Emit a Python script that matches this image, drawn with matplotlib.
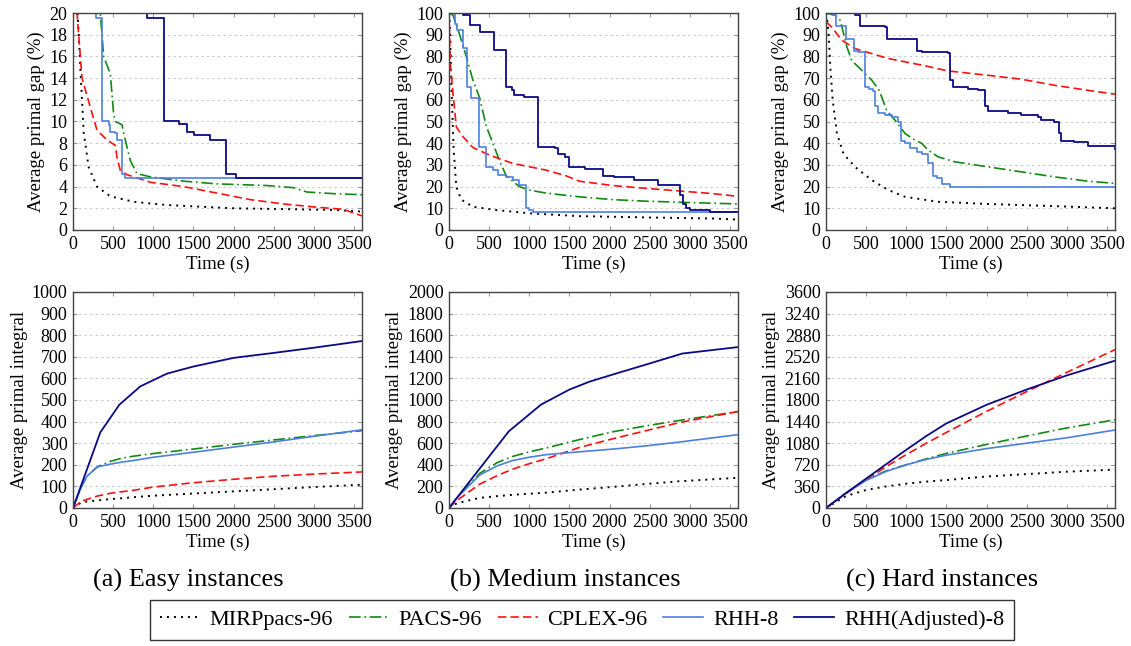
import numpy as np
import matplotlib
matplotlib.use("Agg")
import matplotlib.pyplot as plt
from matplotlib.lines import Line2D

plt.rcParams['font.family'] = ['Liberation Serif', 'DejaVu Serif']
plt.rcParams['font.size'] = 12.5

# ---- data: average primal gap (%) over time (s) ----
# (a) easy
gap_easy_mirp_t = [30, 58, 91, 133, 195, 299, 465, 755, 1170, 2000, 3245, 3600]
gap_easy_mirp_v = [40, 20, 15, 9, 5.8, 4.0, 3.1, 2.6, 2.3, 2.0, 1.85, 1.7]
gap_easy_pacs_t = [320, 340, 382, 465, 506, 527, 610, 651, 714, 797, 963, 1378, 1793, 2415, 2747, 2913, 3245, 3600]
gap_easy_pacs_v = [24, 20, 16, 14.4, 10.7, 10, 9.7, 8.3, 6.4, 5.2, 4.9, 4.5, 4.25, 4.1, 3.9, 3.5, 3.35, 3.25]
gap_easy_cplex_t = [40, 50, 112, 216, 299, 423, 527, 548, 589, 672, 963, 1378, 1793, 2207, 2622, 3037, 3369, 3600]
gap_easy_cplex_v = [24, 20, 14, 11.3, 9.2, 8.3, 7.8, 6.7, 5.5, 5.1, 4.4, 4.0, 3.4, 2.8, 2.4, 2.1, 1.9, 1.3]
gap_easy_rhh_t = [0, 290, 361, 444, 465, 527, 548, 610, 651, 3600]
gap_easy_rhh_v = [100, 19.5, 10, 9.7, 9.0, 8.9, 8.3, 5.2, 4.75, 4.75]
gap_easy_adj_t = [0, 921, 1129, 1315, 1419, 1502, 1710, 1909, 2033, 3600]
gap_easy_adj_v = [100, 19.5, 10, 9.8, 9.0, 8.8, 8.3, 5.2, 4.75, 4.75]

# (b) medium
gap_med_mirp_t = [0, 10, 17, 29, 58, 91, 153, 298, 588, 1001, 1622, 2449, 3277, 3600]
gap_med_mirp_v = [100, 95, 85, 67, 37, 20, 14, 10.7, 9.2, 7.7, 6.4, 5.8, 5.3, 4.8]
gap_med_pacs_t = [0, 50, 132, 215, 298, 381, 463, 546, 629, 712, 877, 1001, 1208, 1622, 2036, 2449, 2863, 3600]
gap_med_pacs_v = [100, 99, 90, 80, 69, 61, 48, 40, 32, 25, 20, 18.4, 17, 15.3, 14, 13.3, 12.8, 12]
gap_med_cplex_t = [0, 10, 21, 50, 91, 174, 298, 505, 794, 1208, 1456, 1622, 2036, 2449, 2863, 3277, 3600]
gap_med_cplex_v = [100, 85, 75, 63, 47.5, 43, 38, 34.5, 30.7, 27.6, 25, 22.5, 20.5, 19.2, 18, 16.8, 15.5]
gap_med_rhh_t = [0, 70, 100, 170, 228, 277, 370, 455, 546, 608, 712, 795, 877, 965, 1000, 1045, 3600]
gap_med_rhh_v = [100, 95, 92, 84, 66, 60.6, 38.3, 29, 27.6, 25.3, 24.5, 23, 20.7, 10, 9.2, 8.4, 8.4]
gap_med_adj_t = [0, 174, 257, 380, 566, 712, 790, 810, 940, 1108, 1315, 1360, 1440, 1490, 1700,
                 1920, 2050, 2300, 2600, 2880, 2920, 2950, 3000, 3250, 3600]
gap_med_adj_v = [100, 99, 94.3, 91.3, 83, 66, 64.4, 62, 61.3, 38.3, 37.6, 35, 33.7, 29, 28,
                 25, 24.2, 23, 20.7, 16, 12, 10, 9.2, 8.4, 8.4]

# (c) hard
gap_hard_mirp_t = [0, 12, 33, 54, 83, 136, 219, 364, 570, 777, 984, 1397, 2017, 2844, 3600]
gap_hard_mirp_v = [100, 98, 90, 75, 60, 44.5, 35, 29, 23, 18.4, 15.3, 13, 12, 11, 10]
gap_hard_pacs_t = [0, 116, 178, 219, 260, 322, 446, 570, 653, 694, 756, 860, 984, 1108, 1190,
                   1273, 1397, 1604, 2017, 2431, 2844, 3258, 3600]
gap_hard_pacs_v = [100, 99, 96.6, 90.5, 84.4, 78, 73.6, 69, 65, 61.3, 55, 50.6, 44.5, 41.4, 40,
                   36.8, 33.7, 31.4, 29.1, 26.8, 24.5, 22.5, 21.5]
gap_hard_cplex_t = [0, 70, 198, 364, 570, 777, 984, 1190, 1521, 2017, 2431, 2844, 3258, 3600]
gap_hard_cplex_v = [96, 93.5, 87.4, 83.6, 81.3, 79, 77.5, 76, 73.3, 71.3, 69.5, 66.7, 64.4, 62.6]
gap_hard_rhh_t = [0, 74, 130, 250, 345, 400, 488, 540, 590, 610, 650, 730, 820, 900, 935, 990,
                  1050, 1130, 1200, 1270, 1330, 1380, 1440, 1550, 3600]
gap_hard_rhh_v = [100, 99, 94, 88, 82.5, 82, 66, 65, 64, 57, 54, 53, 52, 50, 41, 40,
                  38, 36, 35, 31, 25, 24, 21, 20, 19.6]
gap_hard_adj_t = [0, 364, 426, 736, 756, 1130, 1190, 1521, 1542, 1583, 1769, 1893, 1976, 2017,
                  2265, 2431, 2637, 2679, 2844, 2906, 2927, 3092, 3258, 3600]
gap_hard_adj_v = [100, 99, 94, 93.5, 88, 82.5, 82, 81.5, 69, 66, 65, 64.5, 57, 55,
                  54, 53, 52, 50.5, 50, 44.5, 41, 40.5, 38.5, 37.5]

# ---- data: average primal integral over time (s) ----
int_easy_t = [0, 100, 174, 300, 465, 600, 755, 1000, 1500, 2000, 2500, 3000, 3600]
int_easy_mirp = [0, 25, 30, 35, 41, 45, 50, 57, 67, 77, 87, 97, 108]
int_easy_pacs = [0, 95, 147, 190, 216, 230, 240, 252, 273, 295, 315, 335, 358]
int_easy_cplex = [0, 30, 40, 55, 68, 75, 82, 97, 117, 133, 147, 157, 167]
int_easy_rhh = [0, 95, 147, 190, 203, 212, 220, 235, 258, 282, 306, 332, 362]
int_easy_adj_t = [0, 340, 577, 838, 1170, 1500, 2000, 2500, 3000, 3600]
int_easy_adj = [0, 350, 478, 563, 622, 655, 695, 718, 742, 773]

int_med_t = [0, 100, 381, 600, 794, 1000, 1208, 1622, 2036, 2449, 2863, 3600]
int_med_mirp = [0, 45, 93, 110, 122, 132, 142, 170, 195, 222, 247, 280]
int_med_pacs = [0, 95, 320, 420, 478, 520, 555, 633, 705, 760, 810, 893]
int_med_cplex = [0, 70, 220, 300, 360, 410, 455, 560, 640, 715, 790, 893]
int_med_rhh = [0, 95, 305, 390, 440, 470, 494, 520, 545, 575, 610, 679]
int_med_adj_t = [0, 381, 745, 1146, 1498, 1750, 2036, 2449, 2905, 3600]
int_med_adj = [0, 364, 710, 957, 1096, 1170, 1235, 1327, 1430, 1490]

int_hard_t = [0, 250, 500, 750, 1000, 1250, 1500, 2000, 2500, 3000, 3600]
int_hard_mirp = [0, 200, 300, 360, 405, 440, 465, 525, 565, 605, 640]
int_hard_pacs = [0, 250, 470, 620, 720, 820, 910, 1060, 1200, 1335, 1470]
int_hard_cplex = [0, 240, 470, 690, 890, 1080, 1260, 1610, 1940, 2260, 2640]
int_hard_rhh = [0, 250, 460, 610, 720, 810, 880, 990, 1080, 1170, 1300]
int_hard_adj = [0, 250, 490, 730, 970, 1200, 1410, 1720, 1975, 2210, 2455]

labels = ['MIRPpacs-96', 'PACS-96', 'CPLEX-96', 'RHH-8', 'RHH(Adjusted)-8']
colors = ['black', '#118a11', '#ff1010', '#4d7fe0', '#0a0a85']
styles = [(0, (1, 2.6)), (0, (7, 2.2, 1, 2.2)), (0, (5, 2.5)), '-', '-']
widths = [1.4, 1.2, 1.2, 1.2, 1.3]

W, H = 1131, 646
fig = plt.figure(figsize=(W / 100, H / 100), dpi=100)

lefts = [73, 449, 826]
aw = 289


def make_ax(left, top, bottom):
    ax = fig.add_axes([left / W, 1 - bottom / H, aw / W, (bottom - top) / H])
    ax.set_xlim(0, 3600)
    ax.set_xticks(np.arange(0, 3600, 500))
    ax.yaxis.grid(True, linestyle=(0, (2, 3)), color='#c8c8c8', linewidth=0.8)
    ax.set_axisbelow(True)
    ax.tick_params(direction='in', top=True, right=True, length=3, color='#999999',
                   labelsize=13, pad=4)
    for s in ax.spines.values():
        s.set_color('#444444')
        s.set_linewidth(1.0)
    ax.set_xlabel('Time (s)', fontsize=13.5, labelpad=2)
    return ax


def draw(ax, series, steps):
    for i, (t, v) in enumerate(series):
        ax.plot(t, v, color=colors[i], linestyle=styles[i], linewidth=widths[i],
                drawstyle='steps-post' if steps[i] else 'default')


gap_series = [
    [(gap_easy_mirp_t, gap_easy_mirp_v), (gap_easy_pacs_t, gap_easy_pacs_v),
     (gap_easy_cplex_t, gap_easy_cplex_v), (gap_easy_rhh_t, gap_easy_rhh_v),
     (gap_easy_adj_t, gap_easy_adj_v)],
    [(gap_med_mirp_t, gap_med_mirp_v), (gap_med_pacs_t, gap_med_pacs_v),
     (gap_med_cplex_t, gap_med_cplex_v), (gap_med_rhh_t, gap_med_rhh_v),
     (gap_med_adj_t, gap_med_adj_v)],
    [(gap_hard_mirp_t, gap_hard_mirp_v), (gap_hard_pacs_t, gap_hard_pacs_v),
     (gap_hard_cplex_t, gap_hard_cplex_v), (gap_hard_rhh_t, gap_hard_rhh_v),
     (gap_hard_adj_t, gap_hard_adj_v)],
]
gap_ylims = [(20, 2), (100, 10), (100, 10)]

int_series = [
    [(int_easy_t, int_easy_mirp), (int_easy_t, int_easy_pacs), (int_easy_t, int_easy_cplex),
     (int_easy_t, int_easy_rhh), (int_easy_adj_t, int_easy_adj)],
    [(int_med_t, int_med_mirp), (int_med_t, int_med_pacs), (int_med_t, int_med_cplex),
     (int_med_t, int_med_rhh), (int_med_adj_t, int_med_adj)],
    [(int_hard_t, int_hard_mirp), (int_hard_t, int_hard_pacs), (int_hard_t, int_hard_cplex),
     (int_hard_t, int_hard_rhh), (int_hard_t, int_hard_adj)],
]
int_ylims = [(1000, 100), (2000, 200), (3600, 360)]

captions = ['(a) Easy instances', '(b) Medium instances', '(c) Hard instances']

for k in range(3):
    ax = make_ax(lefts[k], 13, 230)
    draw(ax, gap_series[k], [False, False, False, True, True])
    top, step = gap_ylims[k]
    ax.set_ylim(0, top)
    ax.set_yticks(np.arange(0, top + step / 2, step))
    ax.set_ylabel('Average primal gap (%)', fontsize=13.5, labelpad=3)

    ax2 = make_ax(lefts[k], 292, 508)
    draw(ax2, int_series[k], [False] * 5)
    top, step = int_ylims[k]
    ax2.set_ylim(0, top)
    ax2.set_yticks(np.arange(0, top + step / 2, step))
    ax2.set_ylabel('Average primal integral', fontsize=13.5, labelpad=3)

    fig.text((2 * k + 1) / 6, 1 - 580 / H, captions[k], ha='center', va='center', fontsize=19)

handles = [Line2D([], [], color=colors[i], linestyle=styles[i], linewidth=widths[i])
           for i in range(5)]
leg = fig.legend(handles, labels, loc='center', bbox_to_anchor=(582 / W, 1 - 620 / H),
                 ncol=5, fontsize=16, frameon=True, fancybox=False, edgecolor='black',
                 handlelength=1.8, handletextpad=0.45, columnspacing=0.7,
                 borderpad=0.45, borderaxespad=0)
leg.get_frame().set_linewidth(1.0)

fig.savefig('out.png', dpi=100)
